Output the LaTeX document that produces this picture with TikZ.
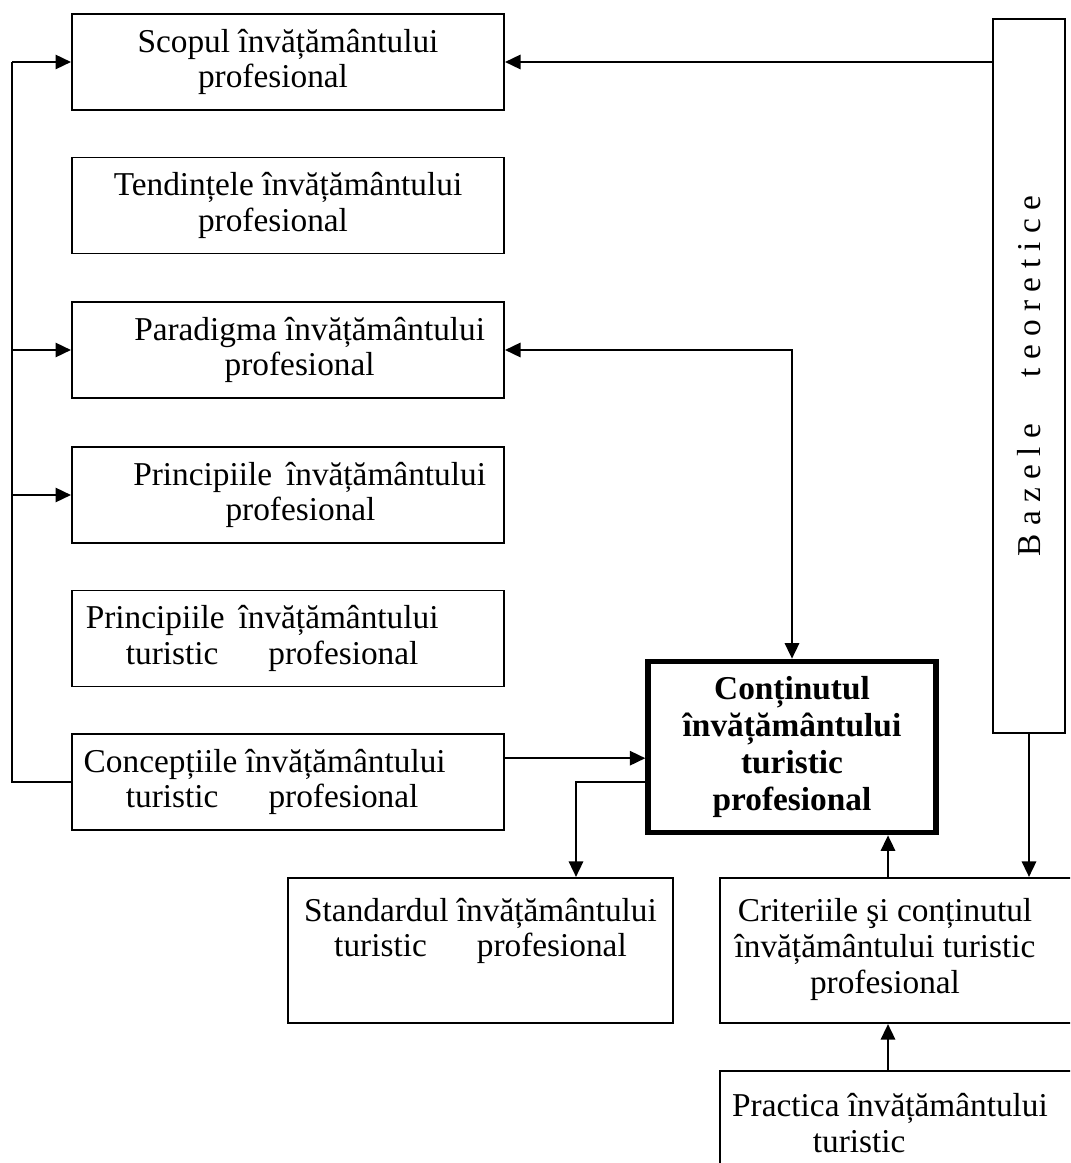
\documentclass[tikz,border=0pt]{standalone}
\usepackage{fontspec}
\setmainfont{Liberation Serif}
\usetikzlibrary{arrows.meta}
\tikzset{box/.style={draw,line width=0.8pt,minimum width=181.5pt,minimum height=40.3pt,align=center,inner sep=1pt},
	mainbox/.style={draw,line width=2.2pt,minimum width=121pt,minimum height=72pt,align=center,
	font=\fontsize{14}{15.5}\selectfont\bfseries},
	link/.style={line width=0.9pt},
	>={Triangle[length=6.5pt,width=6pt]}}

\begin{document}
\begin{tikzpicture}[x=0.42pt,y=-0.42pt,font=\fontsize{14}{15}\selectfont]
\useasboundingbox (0,0) rectangle (1070,1163);
\clip (0,0) rectangle (1070,1163);

% left column
\node[box](scop) at (288,62) {Scopul învățământului\\ profesional\hspace*{0.9em}};
\node[box](tend) at (288,205.5) {Tendințele învățământului\\ profesional\hspace*{0.9em}};
\node[box](parad) at (288,350) {\hspace*{1.3em}Paradigma învățământului\\ \hspace*{0.7em}profesional};
\node[box](princp) at (288,495) {\hspace*{1.3em}Principiile\, învățământului\\ \hspace*{0.75em}profesional};
\node[box](princt) at (288,638.5) {Principiile\, învățământului\hspace*{1.55em}\\ turistic\hspace{1.5em}profesional\hspace*{0.95em}};
\node[box](conc) at (288,782) {Concepțiile învățământului\hspace*{1.4em}\\ turistic\hspace{1.5em}profesional\hspace*{0.95em}};

% right side
\node[draw,line width=0.8pt,minimum width=30.2pt,minimum height=300pt,
	label={[rotate=90]center:B a z e l e\hspace{1.4em}t e o r e t i c e}](baz) at (1029,376) {};
\node[mainbox](cont) at (792,747) {Conținutul\\ învățământului\\ turistic\\ profesional};
\node[box,minimum width=161.7pt,minimum height=61pt](stand) at (480.5,950.5)
	{Standardul învățământului\\ turistic\hspace{1.5em}profesional\\ \strut};
\node[box,minimum width=151pt,minimum height=61pt](crit) at (900,950.5)
	{\begin{tabular}{@{}c@{\hspace{0.9em}}}Criteriile şi conținutul\\ învățământului turistic\\ profesional\end{tabular}};
\node[box,minimum width=151pt,minimum height=43.7pt](prac) at (900,1123)
	{Practica învățământului\hspace*{0.6em}\\ turistic\hspace*{2.45em}};

\coordinate (bus) at (12,0);
\coordinate (sx) at (576,0);
\coordinate (ux) at (888,0);
\coordinate (cin) at ([yshift=10pt]conc.east);

% connectors
\draw[link] (conc.west) -- (bus |- conc.west) -- (bus |- scop.west);
\draw[link,->] (bus |- scop.west) -- (scop.west);
\draw[link,->] (bus |- parad.west) -- (parad.west);
\draw[link,->] (bus |- princp.west) -- (princp.west);
\draw[link,->] (baz.west |- scop.east) -- (scop.east);
\draw[link,<->] (parad.east) -| (cont.north);
\draw[link,->] (cin) -- (cin -| cont.west);
\draw[link,->] (cont.west |- conc.east) -| (sx |- stand.north);
\draw[link,->] (baz.south) -- (baz.south |- crit.north);
\draw[link,->] (ux |- crit.north) -- (ux |- cont.south);
\draw[link,->] (ux |- prac.north) -- (ux |- crit.south);

\end{tikzpicture}
\end{document}
